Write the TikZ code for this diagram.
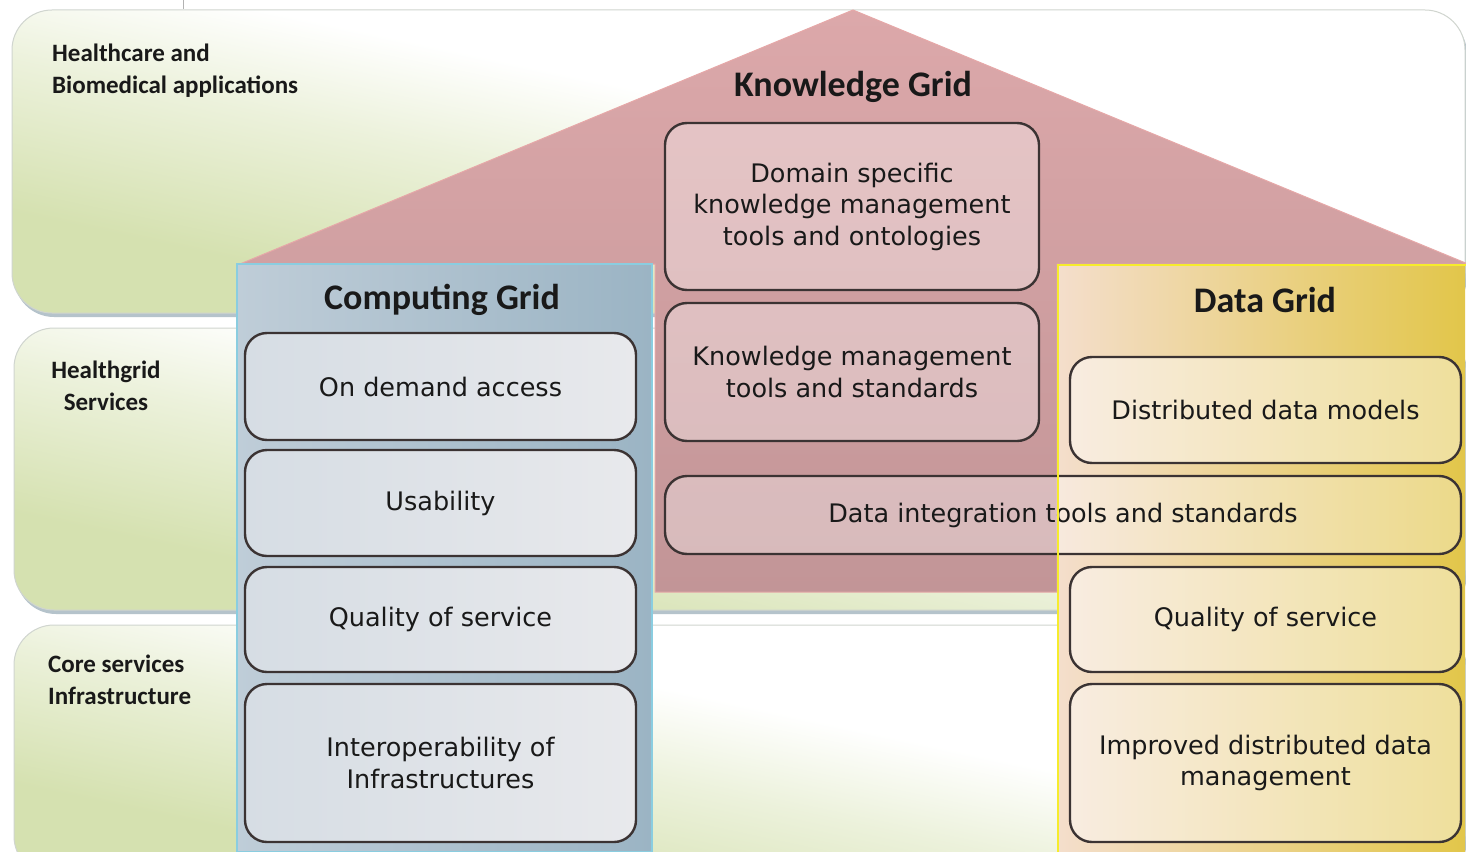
\documentclass[tikz,border=0pt]{standalone}
\usepackage{fontspec}
\setmainfont{DejaVu Sans}
\newfontfamily\labfont{Carlito}
\definecolor{bandg}{HTML}{D5E1B0}
\definecolor{bandedge}{HTML}{D0D5CF}
\definecolor{shadowc}{HTML}{A3B4BE}
\definecolor{pinkA}{HTML}{DCA8AA}
\definecolor{pinkB}{HTML}{C29597}
\definecolor{pinkedge}{HTML}{E6A8A8}
\definecolor{compA}{HTML}{BFCDD8}
\definecolor{compB}{HTML}{9BB4C4}
\definecolor{compEdge}{HTML}{8ACDE0}
\definecolor{dataA}{HTML}{F4DECC}
\definecolor{dataB}{HTML}{E2C64A}
\definecolor{dataEdge}{HTML}{F6EC2C}
\definecolor{boxEdge}{HTML}{3B3333}
\definecolor{cboxA}{HTML}{D6DDE4}
\definecolor{cboxB}{HTML}{E8E9EC}
\pgfdeclareverticalshading{bandsh}{100bp}{color(0bp)=(bandg); color(30bp)=(bandg); color(45bp)=(bandg!45!white); color(55bp)=(white); color(80bp)=(white); color(100bp)=(bandg!50!white)}
\begin{document}
\begin{tikzpicture}[x=1pt,y=-1pt,
  band/.style={rounded corners=40pt, draw=bandedge, line width=1pt,
    shading=bandsh, shading angle=-12},
  bandshadow/.style={rounded corners=40pt, fill=shadowc, fill opacity=0.8},
  boxbase/.style={draw=boxEdge, line width=2.4pt, rounded corners=22pt,
    inner sep=0pt, outer sep=0pt, align=center,
    font=\fontsize{25.5}{31.5}\selectfont, text=black!90},
  cbox/.style={boxbase, left color=cboxA, right color=cboxB},
  kbox/.style={boxbase, fill=white, fill opacity=0.35, text opacity=1},
  dbox/.style={boxbase, fill=white, fill opacity=0.45, text opacity=1},
  gtitle/.style={font=\labfont\bfseries\fontsize{36}{40}\selectfont, text=black!90},
  lab/.style={font=\labfont\bfseries\fontsize{25}{32}\selectfont, text=black!90, inner sep=0pt}
]
\useasboundingbox (0,0) rectangle (1466,851);
\clip (0,0) rectangle (1466,851);
\fill[white] (0,0) rectangle (1466,851);
\draw[gray!60, line width=1pt] (183,0) -- (183,9);

% background bands
\fill[bandshadow] (14,14) rectangle (1467,317);
\shade[band] (12,10) rectangle (1465,313);
\fill[bandshadow] (16,332) rectangle (1467,614);
\shade[band] (14,328) rectangle (1465,610);
\fill[bandshadow] (16,629) rectangle (1467,880);
\shade[band] (14,625) rectangle (1465,876);

% Knowledge grid house
\shade[top color=pinkA, bottom color=pinkB, draw=pinkedge, line width=1pt]
  (853,10) -- (1468,264) -- (1057,264) -- (1057,592) -- (655,592)
  -- (655,264) -- (240,264) -- cycle;

% Computing grid panel
\shade[left color=compA, right color=compB, draw=compEdge, line width=2pt]
  (237,264) rectangle (652,852);
% Data grid panel
\shade[left color=dataA, right color=dataB]
  (1057,264) rectangle (1465,852);

% titles
\node[gtitle] (kg) at (853,87) {Knowledge Grid};
\node[gtitle] (cg) at (442,300) {Computing Grid};
\node[gtitle] (dg) at (1265,300) {Data Grid};

% computing boxes
\node[cbox, minimum width=391pt, minimum height=107pt] (c1) at (440.5,386.5) {On demand access};
\node[cbox, minimum width=391pt, minimum height=106pt] (c2) at (440.5,503) {Usability};
\node[cbox, minimum width=391pt, minimum height=105pt] (c3) at (440.5,619.5) {Quality of service};
\node[cbox, minimum width=391pt, minimum height=158pt] (c4) at (440.5,763) {Interoperability of\\Infrastructures};

% knowledge boxes
\node[kbox, minimum width=374pt, minimum height=167pt] (k1) at (852,206.5) {Domain specific\\knowledge management\\tools and ontologies};
\node[kbox, minimum width=374pt, minimum height=138pt] (k2) at (852,372) {Knowledge management\\tools and standards};
\node[kbox, minimum width=796pt, minimum height=78pt] (k3) at (1063,515) {Data integration tools and standards};

% data boxes
\node[dbox, minimum width=391pt, minimum height=106pt] (d1) at (1265.5,410) {Distributed data models};
\node[dbox, minimum width=391pt, minimum height=105pt] (d2) at (1265.5,619.5) {Quality of service};
\node[dbox, minimum width=391pt, minimum height=158pt] (d3) at (1265.5,763) {Improved distributed data\\management};

% data panel border on top
\draw[dataEdge, line width=2.5pt] (1058,852) -- (1058,265) -- (1466,265);

% layer labels
\node[lab, align=left, anchor=north west] (l1) at (52,44) {Healthcare and\\Biomedical applications};
\node[lab, align=center, anchor=north] (l2) at (106,361) {Healthgrid\\Services};
\node[lab, align=left, anchor=north west] (l3) at (48,655) {Core services\\Infrastructure};
\end{tikzpicture}
\end{document}
